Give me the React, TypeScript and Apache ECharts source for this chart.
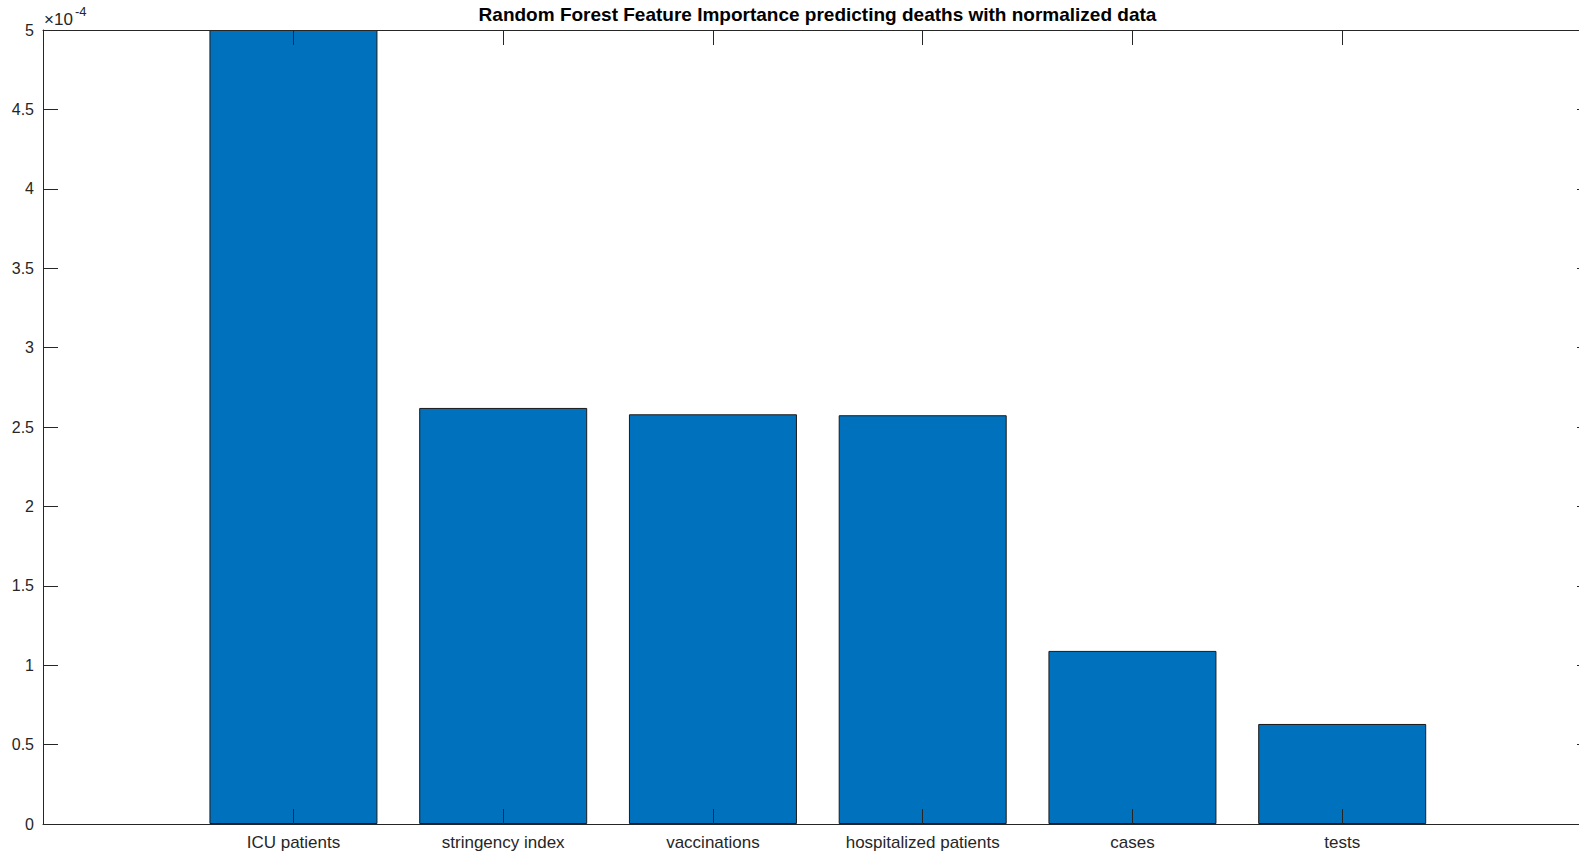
import React, { useEffect, useRef } from "react";
import * as echarts from "echarts";

// Feature names, in bar order
const features = [
  "ICU patients",
  "stringency index",
  "vaccinations",
  "hospitalized patients",
  "cases",
  "tests",
];

// Importance scores
const importance = [5.0e-4, 2.62e-4, 2.58e-4, 2.574e-4, 1.09e-4, 0.63e-4];

// Bar positions along the x axis
const positions = [1, 2, 3, 4, 5, 6];

const yMax = 5e-4;
const yStep = 0.5e-4;
const xMin = -0.194;
const xMax = 7.191;

const axisColor = "#262626";
const font = "Liberation Sans, Arial, Helvetica, sans-serif";

export default function App() {
  const ref = useRef<HTMLDivElement>(null);

  useEffect(() => {
    if (!ref.current) return;
    const chart = echarts.init(ref.current, undefined, { renderer: "svg" });

    const gridLeft = 43;
    const gridTop = 30;
    const gridRight = 8;
    const gridBottom = 31;
    const plotCenter = (gridLeft + (1600 - gridRight)) / 2;

    const tickStyle = { show: true, inside: true, length: 15, lineStyle: { color: axisColor, width: 1 } };
    const lineStyle = { show: true, onZero: false, lineStyle: { color: axisColor, width: 1 } };

    chart.setOption({
      animation: false,
      backgroundColor: "#ffffff",
      textStyle: { fontFamily: font },
      grid: { left: gridLeft, top: gridTop, right: gridRight, bottom: gridBottom, containLabel: false },
      xAxis: [
        {
          type: "value",
          position: "bottom",
          min: xMin,
          max: xMax,
          z: 5,
          axisLine: lineStyle,
          axisTick: { ...tickStyle, customValues: positions },
          axisLabel: {
            customValues: positions,
            formatter: (v: number) => features[Math.round(v) - 1] ?? "",
            color: axisColor,
            fontSize: 17,
            fontFamily: font,
            margin: 10,
          },
          splitLine: { show: false },
        },
        {
          type: "value",
          position: "top",
          min: xMin,
          max: xMax,
          z: 5,
          axisLine: lineStyle,
          axisTick: { ...tickStyle, customValues: positions },
          axisLabel: { show: false },
          splitLine: { show: false },
        },
      ],
      yAxis: [
        {
          type: "value",
          position: "left",
          min: 0,
          max: yMax,
          interval: yStep,
          z: 5,
          axisLine: lineStyle,
          axisTick: tickStyle,
          axisLabel: {
            formatter: (v: number) => String(Math.round(v * 1e5) / 10),
            color: axisColor,
            fontSize: 16,
            fontFamily: font,
            margin: 9,
          },
          splitLine: { show: false },
        },
        {
          type: "value",
          position: "right",
          min: 0,
          max: yMax,
          interval: yStep,
          z: 5,
          axisLine: lineStyle,
          axisTick: tickStyle,
          axisLabel: { show: false },
          splitLine: { show: false },
        },
      ],
      series: [
        {
          type: "bar",
          xAxisIndex: 0,
          yAxisIndex: 0,
          barWidth: 168,
          data: positions.map((p, i) => [p, importance[i]]),
          itemStyle: { color: "#0072BD", borderColor: "#1a1a1a", borderWidth: 1 },
          z: 1,
        },
      ],
      graphic: [
        {
          type: "text",
          x: plotCenter,
          y: 14,
          style: {
            text: "Random Forest Feature Importance predicting deaths with normalized data",
            fill: "#000000",
            fontSize: 19,
            fontWeight: "bold",
            fontFamily: font,
            textAlign: "center",
            textVerticalAlign: "middle",
          },
        },
        {
          type: "text",
          x: 44,
          y: 19,
          style: {
            text: "×10",
            fill: axisColor,
            fontSize: 17,
            fontFamily: font,
            textAlign: "left",
            textVerticalAlign: "middle",
          },
        },
        {
          type: "text",
          x: 75,
          y: 11,
          style: {
            text: "-4",
            fill: axisColor,
            fontSize: 13,
            fontFamily: font,
            textAlign: "left",
            textVerticalAlign: "middle",
          },
        },
      ],
    });

    return () => chart.dispose();
  }, []);

  return (
    <div style={{ position: "fixed", left: 0, top: 0, width: 1579, height: 855, overflow: "hidden", background: "#fff" }}>
      <div ref={ref} style={{ width: 1600, height: 855 }} />
    </div>
  );
}
